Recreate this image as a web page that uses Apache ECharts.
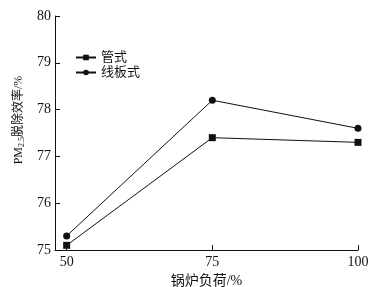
<!DOCTYPE html>
<html><head><meta charset="utf-8">
<script src="https://cdn.jsdelivr.net/npm/echarts@6/dist/echarts.min.js"></script>
<style>html,body{margin:0;padding:0;background:#fff}#c{width:392px;height:287px}</style>
</head><body><div id="c"></div>
<script>
var loads = [50, 75, 100];
var tubeValues = [75.1, 77.4, 77.3];
var plateValues = [75.3, 78.2, 77.6];
var yTicks = [75, 76, 77, 78, 79, 80];
var seriesNames = ['管式', '线板式'];

var font = '"Liberation Serif", "Noto Sans CJK SC", serif';
var chart = echarts.init(document.getElementById('c'));
function pairs(vals){ return loads.map(function(x,i){ return [x, vals[i]]; }); }
chart.setOption({
  animation: false,
  backgroundColor: '#fff',
  grid: {left: 55, right: 34, top: 16, bottom: 37, outerBoundsMode: 'none', containLabel: false},
  legend: {
    left: 70, top: 46, orient: 'vertical', itemGap: 2,
    itemWidth: 20, itemHeight: 7,
    textStyle: {fontFamily: font, fontSize: 13, color: '#111'},
    data: seriesNames
  },
  xAxis: {
    type: 'value', min: 48, max: 100,
    name: '锅炉负荷/%', nameLocation: 'middle', nameGap: 22,
    nameTextStyle: {fontFamily: font, fontSize: 14, color: '#111'},
    axisLine: {lineStyle: {color: '#111', width: 1}},
    axisTick: {inside: true, length: 5, lineStyle: {color: '#111'}, customValues: loads},
    axisLabel: {fontFamily: font, fontSize: 14, color: '#111', customValues: loads, margin: 5},
    splitLine: {show: false}
  },
  yAxis: {
    type: 'value', min: 75, max: 80, interval: 1,
    name: '{a|PM}{s|2.5}{a|脱除效率/%}', nameLocation: 'middle', nameGap: 12, nameRotate: 90,
    nameTextStyle: {padding: [0,0,0,26], rich: {
      a: {fontFamily: font, fontSize: 12, color: '#111'},
      s: {fontFamily: font, fontSize: 8, color: '#111', verticalAlign: 'bottom', padding: [6,0,0,0]}
    }},
    axisLine: {show: true, lineStyle: {color: '#111', width: 1}},
    axisTick: {inside: true, length: 5, lineStyle: {color: '#111'}},
    axisLabel: {fontFamily: font, fontSize: 14, color: '#111', margin: 4},
    splitLine: {show: false}
  },
  series: [
    {name: seriesNames[0], type: 'line', data: pairs(tubeValues), symbol: 'rect', symbolSize: 7,
     lineStyle: {color: '#111', width: 1}, itemStyle: {color: '#111'}},
    {name: seriesNames[1], type: 'line', data: pairs(plateValues), symbol: 'circle', symbolSize: 7,
     lineStyle: {color: '#111', width: 1}, itemStyle: {color: '#111'}}
  ]
});
</script></body></html>
